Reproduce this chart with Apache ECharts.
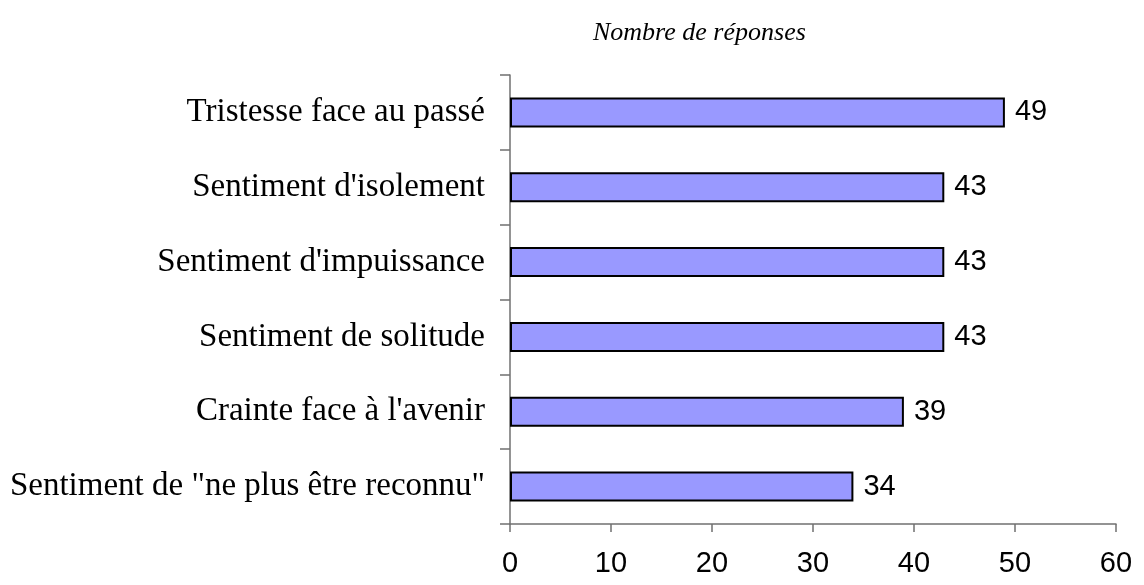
<!DOCTYPE html>
<html>
<head>
<meta charset="utf-8">
<script src="https://cdn.jsdelivr.net/npm/echarts@6/dist/echarts.min.js"></script>
<style>
html,body{margin:0;padding:0;background:#fff;}
#chart{width:1144px;height:585px;}
</style>
</head>
<body>
<div id="chart"></div>
<script>
const categories = [
  "Tristesse face au passé",
  "Sentiment d'isolement",
  "Sentiment d'impuissance",
  "Sentiment de solitude",
  "Crainte face à l'avenir",
  "Sentiment de \"ne plus être reconnu\""
];
const values = [49, 43, 43, 43, 39, 34];
const titleText = "Nombre de réponses";

const chart = echarts.init(document.getElementById('chart'), null, {renderer: 'canvas'});
chart.setOption({
  animation: false,
  backgroundColor: '#ffffff',
  title: {
    text: titleText,
    left: 588,
    top: 15,
    textStyle: {
      fontFamily: 'Liberation Serif',
      fontStyle: 'italic',
      fontWeight: 'normal',
      fontSize: 26,
      color: '#000'
    }
  },
  grid: {left: 510, right: 28, top: 75, bottom: 61, containLabel: false},
  xAxis: {
    type: 'value',
    min: 0,
    max: 60,
    interval: 10,
    splitLine: {show: false},
    axisLine: {show: true, lineStyle: {color: '#707070', width: 1.5}},
    axisTick: {show: true, length: 8, lineStyle: {color: '#707070', width: 1.5}},
    axisLabel: {
      margin: 25,
      fontFamily: 'Liberation Sans',
      fontSize: 29,
      color: '#000'
    }
  },
  yAxis: {
    type: 'category',
    inverse: true,
    data: categories,
    axisLine: {show: true, lineStyle: {color: '#707070', width: 1.5}},
    axisTick: {show: true, length: 10, alignWithLabel: false, lineStyle: {color: '#707070', width: 1.5}},
    axisLabel: {
      margin: 25,
      fontFamily: 'Liberation Serif',
      fontSize: 33,
      color: '#000'
    }
  },
  series: [{
    type: 'bar',
    data: values,
    barWidth: 30,
    itemStyle: {color: '#9999FF', borderColor: '#000000', borderWidth: 2},
    label: {
      show: true,
      position: 'right',
      distance: 10,
      fontFamily: 'Liberation Sans',
      fontSize: 29,
      color: '#000'
    }
  }]
});
</script>
</body>
</html>
